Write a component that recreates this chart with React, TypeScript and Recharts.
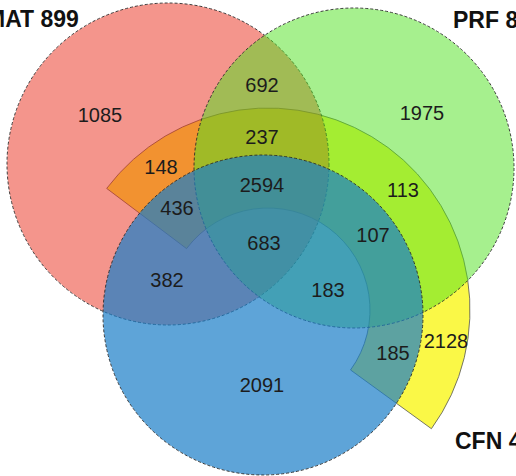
import { ScatterChart, Scatter, XAxis, YAxis, Sector } from 'recharts';

const W = 516;
const H = 476;

// three round sets, in picture units (x right, y down)
const SET_NAMES = ['MAT 899', 'PRF 8', 'CFN 4'];
const CIRCLE_X = [168, 354, 263];
const CIRCLE_Y = [164, 168, 315];
const CIRCLE_R = [161, 160, 160];

// fourth set is drawn as a ring sector
const RING_X = 268;
const RING_Y = 310;
const RING_INNER = 102;
const RING_OUTER = 202;
const RING_START = -36;
const RING_END = 143;

// region counts and where they sit
const COUNTS = [1085, 692, 1975, 237, 148, 2594, 113, 436, 107, 683, 382, 183, 185, 2128, 2091];
const COUNT_X = [100, 262, 422, 262, 161, 262, 403, 177, 373, 264, 167, 328, 393, 446, 262];
const COUNT_Y = [115, 85, 113, 137, 167, 185, 190, 208, 235, 243, 280, 290, 353, 341, 385];

// set name labels (baseline, left aligned); they run past the page edge as in the source
const NAME_X = [-14, 453, 455];
const NAME_Y = [27, 28, 449];

const CIRCLE_FILL = ['#E92B19', '#4DE11D', '#1A7DC7'];
const CIRCLE_OPACITY = [0.5, 0.5, 0.7];

const k = W / W; // plot width / x domain width

const circles = CIRCLE_X.map((x, i) => ({ x, y: CIRCLE_Y[i], r: CIRCLE_R[i], i }));
const ring = [{ x: RING_X, y: RING_Y, inner: RING_INNER, outer: RING_OUTER }];
const counts = COUNTS.map((n, i) => ({ x: COUNT_X[i], y: COUNT_Y[i], n }));
const names = SET_NAMES.map((name, i) => ({ x: NAME_X[i], y: NAME_Y[i], name }));

const FONT = '"Liberation Sans", Arial, Helvetica, sans-serif';

function CircleShape(props: any) {
  const { cx, cy, payload } = props;
  const i = payload.i;
  return (
    <circle
      cx={cx}
      cy={cy}
      r={payload.r * k}
      fill={CIRCLE_FILL[i]}
      fillOpacity={CIRCLE_OPACITY[i]}
      stroke="#2a2a2a"
      strokeWidth={0.9}
      strokeDasharray="3 2"
    />
  );
}

function RingShape(props: any) {
  const { cx, cy, payload } = props;
  return (
    <Sector
      cx={cx}
      cy={cy}
      innerRadius={payload.inner * k}
      outerRadius={payload.outer * k}
      startAngle={RING_START}
      endAngle={RING_END}
      fill="#F8F500"
      fillOpacity={0.72}
      stroke="#555"
      strokeWidth={0.8}
    />
  );
}

function CountLabel(props: any) {
  const { cx, cy, payload } = props;
  return (
    <text x={cx} y={cy} dy="0.36em" textAnchor="middle" fontFamily={FONT} fontSize={20} fill="#1c1c1c">
      {payload.n}
    </text>
  );
}

function NameLabel(props: any) {
  const { cx, cy, payload } = props;
  return (
    <text x={cx} y={cy} textAnchor="start" fontFamily={FONT} fontSize={23} fontWeight="bold" fill="#111">
      {payload.name}
    </text>
  );
}

export default function App() {
  return (
    <div style={{ position: 'absolute', left: 0, top: 0, width: W, height: H, background: '#fff' }}>
      <ScatterChart width={W} height={H} margin={{ top: 0, right: 0, bottom: 0, left: 0 }}>
        <XAxis type="number" dataKey="x" domain={[0, W]} allowDataOverflow hide />
        <YAxis type="number" dataKey="y" domain={[0, H]} reversed allowDataOverflow hide />
        <Scatter data={ring} shape={RingShape} isAnimationActive={false} />
        <Scatter data={circles.slice(0, 1)} shape={CircleShape} isAnimationActive={false} />
        <Scatter data={circles.slice(1, 2)} shape={CircleShape} isAnimationActive={false} />
        <Scatter data={circles.slice(2, 3)} shape={CircleShape} isAnimationActive={false} />
        <Scatter data={counts} shape={CountLabel} isAnimationActive={false} />
        <Scatter data={names} shape={NameLabel} isAnimationActive={false} />
      </ScatterChart>
    </div>
  );
}
